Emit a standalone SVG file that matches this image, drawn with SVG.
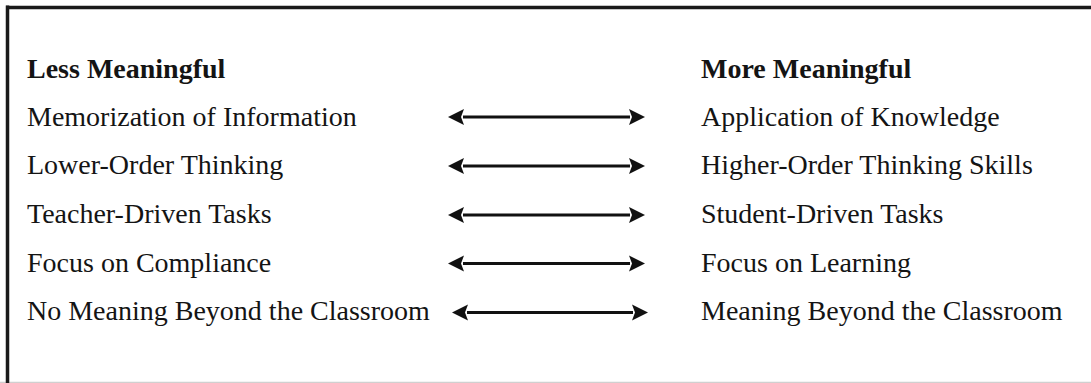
<svg xmlns="http://www.w3.org/2000/svg" width="1091" height="383" viewBox="0 0 1091 383">
  <defs>
    <style>
      .t { font-family: "Liberation Serif", "Times New Roman", serif; font-size: 28px; fill: #141414; }
      .h { font-weight: bold; }
      .arr { stroke: #111; stroke-width: 2.8; fill: none; marker-start: url(#head); marker-end: url(#head); }
    </style>
    <marker id="head" markerUnits="userSpaceOnUse" markerWidth="16" markerHeight="18" refX="1" refY="9" orient="auto-start-reverse" viewBox="0 0 16 18">
      <path d="M0,1 L16,9 L0,17 L3,9 z" fill="#111"/>
    </marker>
  </defs>
  <rect width="1091" height="383" fill="#fff"/>
  <g id="frame">
    <line x1="0" y1="382.5" x2="1091" y2="382.5" stroke="#d0d0d0" stroke-width="1.5"/>
    <line x1="7.5" y1="5.5" x2="7.5" y2="383" stroke="#1a1a1a" stroke-width="3.5"/>
    <line x1="6" y1="7.5" x2="1091" y2="7.5" stroke="#1a1a1a" stroke-width="3.5"/>
  </g>
  <g id="header-left"><text class="t h" x="27" y="77.5">Less Meaningful</text></g>
  <g id="header-right"><text class="t h" x="701" y="77.5">More Meaningful</text></g>
  <g id="left-1"><text class="t" x="27" y="125.5">Memorization of Information</text></g>
  <g id="left-2"><text class="t" x="27" y="174">Lower-Order Thinking</text></g>
  <g id="left-3"><text class="t" x="27" y="222.5">Teacher-Driven Tasks</text></g>
  <g id="left-4"><text class="t" x="27" y="271.5">Focus on Compliance</text></g>
  <g id="left-5"><text class="t" x="27" y="320">No Meaning Beyond the Classroom</text></g>
  <g id="right-1"><text class="t" x="701" y="125.5">Application of Knowledge</text></g>
  <g id="right-2"><text class="t" x="701" y="174">Higher-Order Thinking Skills</text></g>
  <g id="right-3"><text class="t" x="701" y="222.5">Student-Driven Tasks</text></g>
  <g id="right-4"><text class="t" x="701" y="271.5">Focus on Learning</text></g>
  <g id="right-5"><text class="t" x="701" y="320">Meaning Beyond the Classroom</text></g>
  <g id="connectors">
    <line class="arr" x1="463" y1="117" x2="630" y2="117"/>
    <line class="arr" x1="463" y1="166" x2="630" y2="166"/>
    <line class="arr" x1="463" y1="215" x2="630" y2="215"/>
    <line class="arr" x1="463" y1="263.5" x2="630" y2="263.5"/>
    <line class="arr" x1="467" y1="312.5" x2="633" y2="312.5"/>
  </g>
</svg>
